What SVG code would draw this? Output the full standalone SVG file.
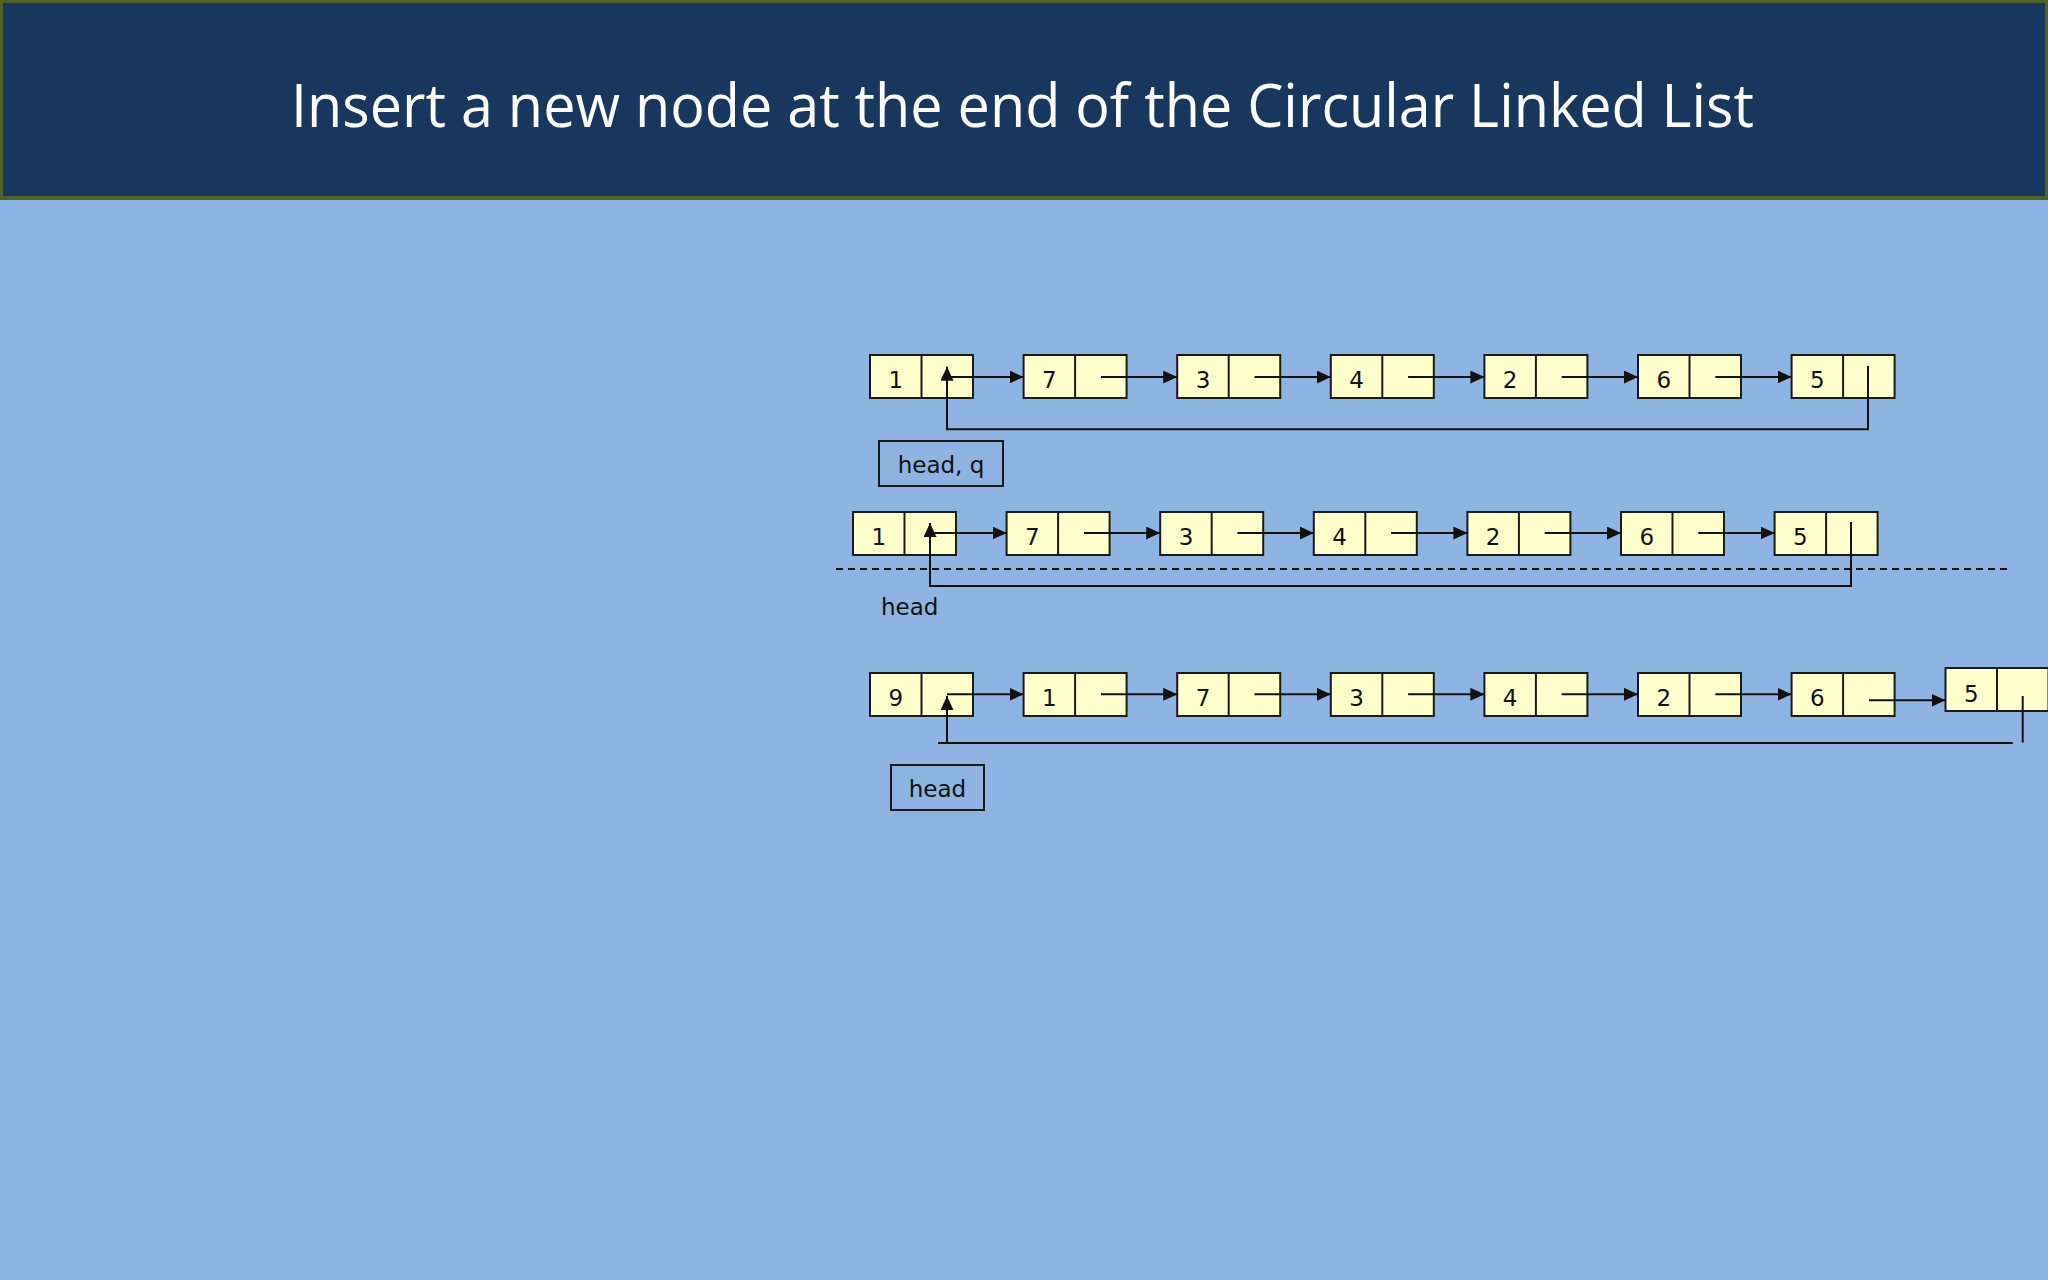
<svg xmlns="http://www.w3.org/2000/svg" width="2048" height="1280" viewBox="0 0 2048 1280">
<defs>
<style>
.bg{fill:#8eb4e2}
.hdr{fill:#17375e;stroke:#4f6228;stroke-width:3}
.title{font-family:"Open Sans","Liberation Sans",sans-serif;font-size:61px;fill:#ffffff}
.cell{fill:#ffffcc;stroke:#1a1a1a;stroke-width:2}
.num{font-family:"DejaVu Sans","Liberation Sans",sans-serif;font-size:23px;fill:#111;text-anchor:middle}
.lbl{font-family:"DejaVu Sans","Liberation Sans",sans-serif;font-size:23px;fill:#111}
.lblbox{fill:none;stroke:#1a1a1a;stroke-width:2}
.ln{fill:none;stroke:#111;stroke-width:2}
.arr{fill:none;stroke:#111;stroke-width:2;marker-end:url(#ah)}
.dash{fill:none;stroke:#111;stroke-width:2;stroke-dasharray:7 5}
</style>
<marker id="ah" markerUnits="userSpaceOnUse" markerWidth="14" markerHeight="13" refX="14" refY="6.5" orient="auto">
<path d="M0,0 L14,6.5 L0,13 z" fill="#111"/>
</marker>
<g id="nodeShape">
<rect class="cell" x="0" y="0" width="103" height="43"/>
<line x1="51.5" y1="0" x2="51.5" y2="43" stroke="#1a1a1a" stroke-width="2"/>
</g>
</defs>
<rect class="bg" x="0" y="0" width="2048" height="1280"/>
<g id="header">
<rect class="hdr" x="1.5" y="1.5" width="2045" height="196"/>
<line x1="0" y1="198" x2="2048" y2="198" stroke="#4f6228" stroke-width="4"/>
<text class="title" x="291" y="127" textLength="1463" lengthAdjust="spacingAndGlyphs">Insert a new node at the end of the Circular Linked List</text>
</g>

<!-- Row 1 -->
<g id="r1n1"><use href="#nodeShape" x="870" y="355"/><text class="num" x="895.75" y="388">1</text></g>
<g id="r1n2"><use href="#nodeShape" x="1023.6" y="355"/><text class="num" x="1049.35" y="388">7</text></g>
<g id="r1n3"><use href="#nodeShape" x="1177.2" y="355"/><text class="num" x="1202.95" y="388">3</text></g>
<g id="r1n4"><use href="#nodeShape" x="1330.8" y="355"/><text class="num" x="1356.55" y="388">4</text></g>
<g id="r1n5"><use href="#nodeShape" x="1484.4" y="355"/><text class="num" x="1510.15" y="388">2</text></g>
<g id="r1n6"><use href="#nodeShape" x="1638" y="355"/><text class="num" x="1663.75" y="388">6</text></g>
<g id="r1n7"><use href="#nodeShape" x="1791.6" y="355"/><text class="num" x="1817.35" y="388">5</text></g>
<g id="r1label"><rect class="lblbox" x="879" y="441" width="124" height="45"/><text class="lbl" x="941" y="473" text-anchor="middle">head, q</text></g>

<!-- Row 2 -->
<g id="r2n1"><use href="#nodeShape" x="853" y="512"/><text class="num" x="878.75" y="545">1</text></g>
<g id="r2n2"><use href="#nodeShape" x="1006.6" y="512"/><text class="num" x="1032.35" y="545">7</text></g>
<g id="r2n3"><use href="#nodeShape" x="1160.2" y="512"/><text class="num" x="1185.95" y="545">3</text></g>
<g id="r2n4"><use href="#nodeShape" x="1313.8" y="512"/><text class="num" x="1339.55" y="545">4</text></g>
<g id="r2n5"><use href="#nodeShape" x="1467.4" y="512"/><text class="num" x="1493.15" y="545">2</text></g>
<g id="r2n6"><use href="#nodeShape" x="1621" y="512"/><text class="num" x="1646.75" y="545">6</text></g>
<g id="r2n7"><use href="#nodeShape" x="1774.6" y="512"/><text class="num" x="1800.35" y="545">5</text></g>
<g id="r2label"><text class="lbl" x="881" y="615">head</text></g>

<!-- Row 3 -->
<g id="r3n1"><use href="#nodeShape" x="870" y="673"/><text class="num" x="895.75" y="706">9</text></g>
<g id="r3n2"><use href="#nodeShape" x="1023.6" y="673"/><text class="num" x="1049.35" y="706">1</text></g>
<g id="r3n3"><use href="#nodeShape" x="1177.2" y="673"/><text class="num" x="1202.95" y="706">7</text></g>
<g id="r3n4"><use href="#nodeShape" x="1330.8" y="673"/><text class="num" x="1356.55" y="706">3</text></g>
<g id="r3n5"><use href="#nodeShape" x="1484.4" y="673"/><text class="num" x="1510.15" y="706">4</text></g>
<g id="r3n6"><use href="#nodeShape" x="1638" y="673"/><text class="num" x="1663.75" y="706">2</text></g>
<g id="r3n7"><use href="#nodeShape" x="1791.6" y="673"/><text class="num" x="1817.35" y="706">6</text></g>
<g id="r3n8"><use href="#nodeShape" x="1945.5" y="668"/><text class="num" x="1971.25" y="702">5</text></g>
<g id="r3label"><rect class="lblbox" x="891" y="765" width="93" height="45"/><text class="lbl" x="937.5" y="797" text-anchor="middle">head</text></g>

<g id="connectors">
<!-- row 1 -->
<line class="arr" x1="947" y1="377" x2="1023.6" y2="377"/>
<line class="arr" x1="1100.9" y1="377" x2="1177.2" y2="377"/>
<line class="arr" x1="1254.5" y1="377" x2="1330.8" y2="377"/>
<line class="arr" x1="1408.1" y1="377" x2="1484.4" y2="377"/>
<line class="arr" x1="1561.7" y1="377" x2="1638" y2="377"/>
<line class="arr" x1="1715.3" y1="377" x2="1791.6" y2="377"/>
<path class="arr" d="M1868,366 V429.3 H947 V366.7"/>
<!-- row 2 -->
<line class="arr" x1="930" y1="533" x2="1006.6" y2="533"/>
<line class="arr" x1="1083.9" y1="533" x2="1160.2" y2="533"/>
<line class="arr" x1="1237.5" y1="533" x2="1313.8" y2="533"/>
<line class="arr" x1="1391.1" y1="533" x2="1467.4" y2="533"/>
<line class="arr" x1="1544.7" y1="533" x2="1621" y2="533"/>
<line class="arr" x1="1698.3" y1="533" x2="1774.6" y2="533"/>
<path class="arr" d="M1851,522 V586 H930 V523"/>
<line class="dash" x1="836" y1="569" x2="2012" y2="569"/>
<!-- row 3 -->
<line class="arr" x1="947" y1="694.3" x2="1023.6" y2="694.3"/>
<line class="arr" x1="1100.9" y1="694.3" x2="1177.2" y2="694.3"/>
<line class="arr" x1="1254.5" y1="694.3" x2="1330.8" y2="694.3"/>
<line class="arr" x1="1408.1" y1="694.3" x2="1484.4" y2="694.3"/>
<line class="arr" x1="1561.7" y1="694.3" x2="1638" y2="694.3"/>
<line class="arr" x1="1715.3" y1="694.3" x2="1791.6" y2="694.3"/>
<line class="arr" x1="1869" y1="700.3" x2="1945.5" y2="700.3"/>
<line class="ln" x1="2022.7" y1="696" x2="2022.7" y2="742.5"/>
<line class="ln" x1="938" y1="743" x2="2012.7" y2="743"/>
<line class="arr" x1="947" y1="743" x2="947" y2="696"/>
</g>
</svg>
